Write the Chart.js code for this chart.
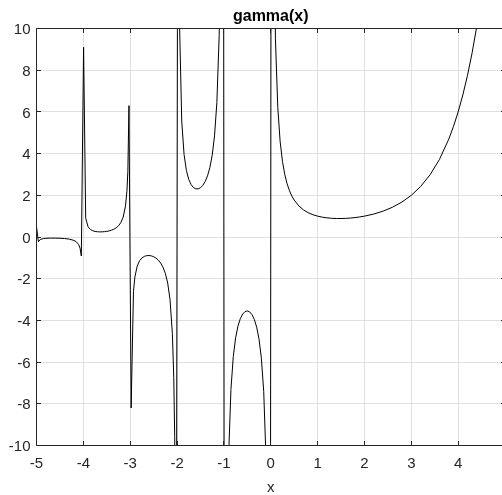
<!DOCTYPE html>
<html><head><meta charset="utf-8">
<script src="https://cdn.jsdelivr.net/npm/chart.js@4"></script>
<style>
html,body{margin:0;padding:0;overflow:hidden;background:#fff;width:502px;height:495px}
#wrap{position:absolute;left:0;top:0;width:508px;height:495px}
</style>
</head><body><div id="wrap"><canvas id="c" width="508" height="495"></canvas></div>
<script>
const xValues = [-5.0, -4.96, -4.92, -4.85, -4.8, -4.7, -4.6, -4.5, -4.4, -4.3, -4.2, -4.15, -4.1, -4.07, -4.043,
  -3.995, -3.95, -3.9, -3.85, -3.8, -3.75, -3.7, -3.65, -3.6, -3.55, -3.5, -3.45, -3.4, -3.35, -3.3, -3.25, -3.2, -3.15, -3.1, -3.07, -3.05, -3.026,
  -2.98, -2.93, -2.9, -2.85, -2.8, -2.75, -2.7, -2.65, -2.6, -2.55, -2.5, -2.45, -2.4, -2.35, -2.3, -2.25, -2.2, -2.15, -2.1, -2.07, -2.05, -2.02,
  -1.98, -1.95, -1.9, -1.85, -1.8, -1.75, -1.7, -1.65, -1.6, -1.55, -1.5, -1.45, -1.4, -1.35, -1.3, -1.25, -1.2, -1.15, -1.1, -1.05, -1.02,
  -0.98, -0.95, -0.9, -0.85, -0.8, -0.75, -0.7, -0.65, -0.6, -0.55, -0.5, -0.45, -0.4, -0.35, -0.3, -0.25, -0.2, -0.15, -0.1, -0.05, -0.02,
  0.02, 0.05, 0.1, 0.15, 0.2, 0.25, 0.3, 0.35, 0.4, 0.45, 0.5, 0.6, 0.7, 0.8, 0.9, 1.0, 1.1, 1.2, 1.3, 1.4, 1.5, 1.6, 1.7, 1.8, 1.9,
  2.0, 2.2, 2.4, 2.6, 2.8, 3.0, 3.2, 3.4, 3.6, 3.8, 3.9, 4.0, 4.1, 4.2, 4.3, 4.4, 4.6, 4.8, 5.0];

const gammaValues = [0.5, -0.224, -0.121, -0.0743, -0.0624, -0.0535, -0.0537, -0.0600, -0.0741, -0.1020, -0.1641, -0.2295, -0.364, -0.540, -0.911,
  9.1, 0.902, 0.4919, 0.3605, 0.2996, 0.2679, 0.2516, 0.2455, 0.2469, 0.2550, 0.2701, 0.2930, 0.3259, 0.3723, 0.4385, 0.5363, 0.6891, 0.9524, 1.4923, 2.197, 3.1426, 6.3,
  -8.2, -2.615, -1.9183, -1.388, -1.1386, -1.0045, -0.9311, -0.8959, -0.8887, -0.9054, -0.9453, -1.0109, -1.108, -1.2471, -1.4472, -1.7428, -2.205, -3.0, -4.626, -6.744, -9.585, -24.57,
  25.48, 10.51, 5.563, 3.9557, 3.1881, 2.7623, 2.5139, 2.3742, 2.3107, 2.3088, 2.3633, 2.4768, 2.6593, 2.9307, 3.3286, 3.9213, 4.851, 6.45, 9.715, 19.65, 49.64,
  -50.45, -20.49, -10.57, -7.318, -5.7385, -4.8341, -4.2737, -3.9174, -3.697, -3.5786, -3.5449, -3.5914, -3.723, -3.9565, -4.327, -4.9017, -5.821, -7.417, -10.686, -20.63, -50.63,
  49.44, 19.47, 9.514, 6.22, 4.591, 3.6256, 2.9916, 2.5463, 2.2182, 1.9682, 1.7725, 1.4892, 1.2981, 1.1642, 1.0686, 1.0, 0.9514, 0.9182, 0.8975, 0.8873, 0.8862, 0.8935, 0.9086, 0.9314, 0.9618,
  1.0, 1.1018, 1.2422, 1.4296, 1.6765, 2.0, 2.424, 2.9812, 3.717, 4.6942, 5.2995, 6.0, 6.8129, 7.7567, 8.8555, 10.136, 13.381, 17.837, 24.0];

const xTickValues = [-5, -4, -3, -2, -1, 0, 1, 2, 3, 4];
const yTickValues = [-10, -8, -6, -4, -2, 0, 2, 4, 6, 8, 10];
const chartTitle = 'gamma(x)';
const xAxisLabel = 'x';

const points = xValues.map((x, i) => ({x: x, y: gammaValues[i]}));
const FONT = 'Liberation Sans, Arial, Helvetica, sans-serif';
const AXIS = '#262626';

function align(v) { return Math.round(v - 0.5) + 0.5; }

const framePlugin = {
  id: 'frame',
  afterDraw(chart) {
    const {ctx, chartArea: a, scales} = chart;
    const xs = scales.x, ys = scales.y;
    const L = align(a.left), R = align(a.right), T = align(a.top), B = align(a.bottom);
    ctx.save();
    ctx.strokeStyle = AXIS;
    ctx.lineWidth = 1;
    ctx.beginPath();
    ctx.moveTo(L, T); ctx.lineTo(R, T);
    ctx.moveTo(L, B); ctx.lineTo(R, B);
    ctx.moveTo(L, T); ctx.lineTo(L, B);
    ctx.moveTo(R, T); ctx.lineTo(R, B);
    const tl = 4.5;
    xTickValues.forEach(v => {
      const px = align(xs.getPixelForValue(v));
      ctx.moveTo(px, B); ctx.lineTo(px, B - tl);
      ctx.moveTo(px, T); ctx.lineTo(px, T + tl);
    });
    yTickValues.forEach(v => {
      const py = align(ys.getPixelForValue(v));
      ctx.moveTo(L, py); ctx.lineTo(L + tl, py);
      ctx.moveTo(R, py); ctx.lineTo(R - tl, py);
    });
    ctx.stroke();
    ctx.restore();
  }
};

new Chart(document.getElementById('c'), {
  type: 'scatter',
  data: {
    datasets: [{
      label: chartTitle,
      data: points,
      showLine: true,
      borderColor: '#000000',
      borderWidth: 1,
      pointRadius: 0,
      pointHoverRadius: 0,
      fill: false,
      tension: 0,
      xAxisID: 'x',
      yAxisID: 'y'
    }]
  },
  options: {
    responsive: false,
    animation: false,
    devicePixelRatio: 1,
    layout: {padding: {left: 0, right: 3, top: 0, bottom: 0}},
    plugins: {legend: {display: false}, tooltip: {enabled: false}, title: {display: false}},
    scales: {
      x: {
        type: 'linear', position: 'bottom', min: -5, max: 5,
        afterBuildTicks: s => { s.ticks = xTickValues.map(v => ({value: v})); },
        afterFit: s => { s.height = 49.5; },
        grid: {color: '#e0e0e0', lineWidth: 1, drawTicks: false},
        border: {display: false},
        ticks: {padding: 9, color: AXIS, font: {family: FONT, size: 15}, maxRotation: 0, autoSkip: false,
                callback: v => String(v)},
        title: {display: true, text: xAxisLabel, color: AXIS, font: {family: FONT, size: 15}, padding: {top: 0, bottom: -2}}
      },
      xt: {
        type: 'linear', position: 'top', min: -5, max: 5,
        afterFit: s => { s.height = 28.5; },
        grid: {display: false, drawTicks: false},
        border: {display: false},
        ticks: {display: false},
        title: {display: true, text: chartTitle, color: '#000', font: {family: FONT, size: 16, weight: 'bold'}, padding: {top: 6.8, bottom: 0}}
      },
      y: {
        type: 'linear', position: 'left', min: -10, max: 10,
        afterBuildTicks: s => { s.ticks = yTickValues.map(v => ({value: v})); },
        afterFit: s => { s.width = 36.5; },
        grid: {color: '#e0e0e0', lineWidth: 1, drawTicks: false},
        border: {display: false},
        ticks: {padding: 6, labelOffset: 1.5, color: AXIS, font: {family: FONT, size: 15}, callback: v => String(v)}
      }
    }
  },
  plugins: [framePlugin]
});
</script>
</body></html>
